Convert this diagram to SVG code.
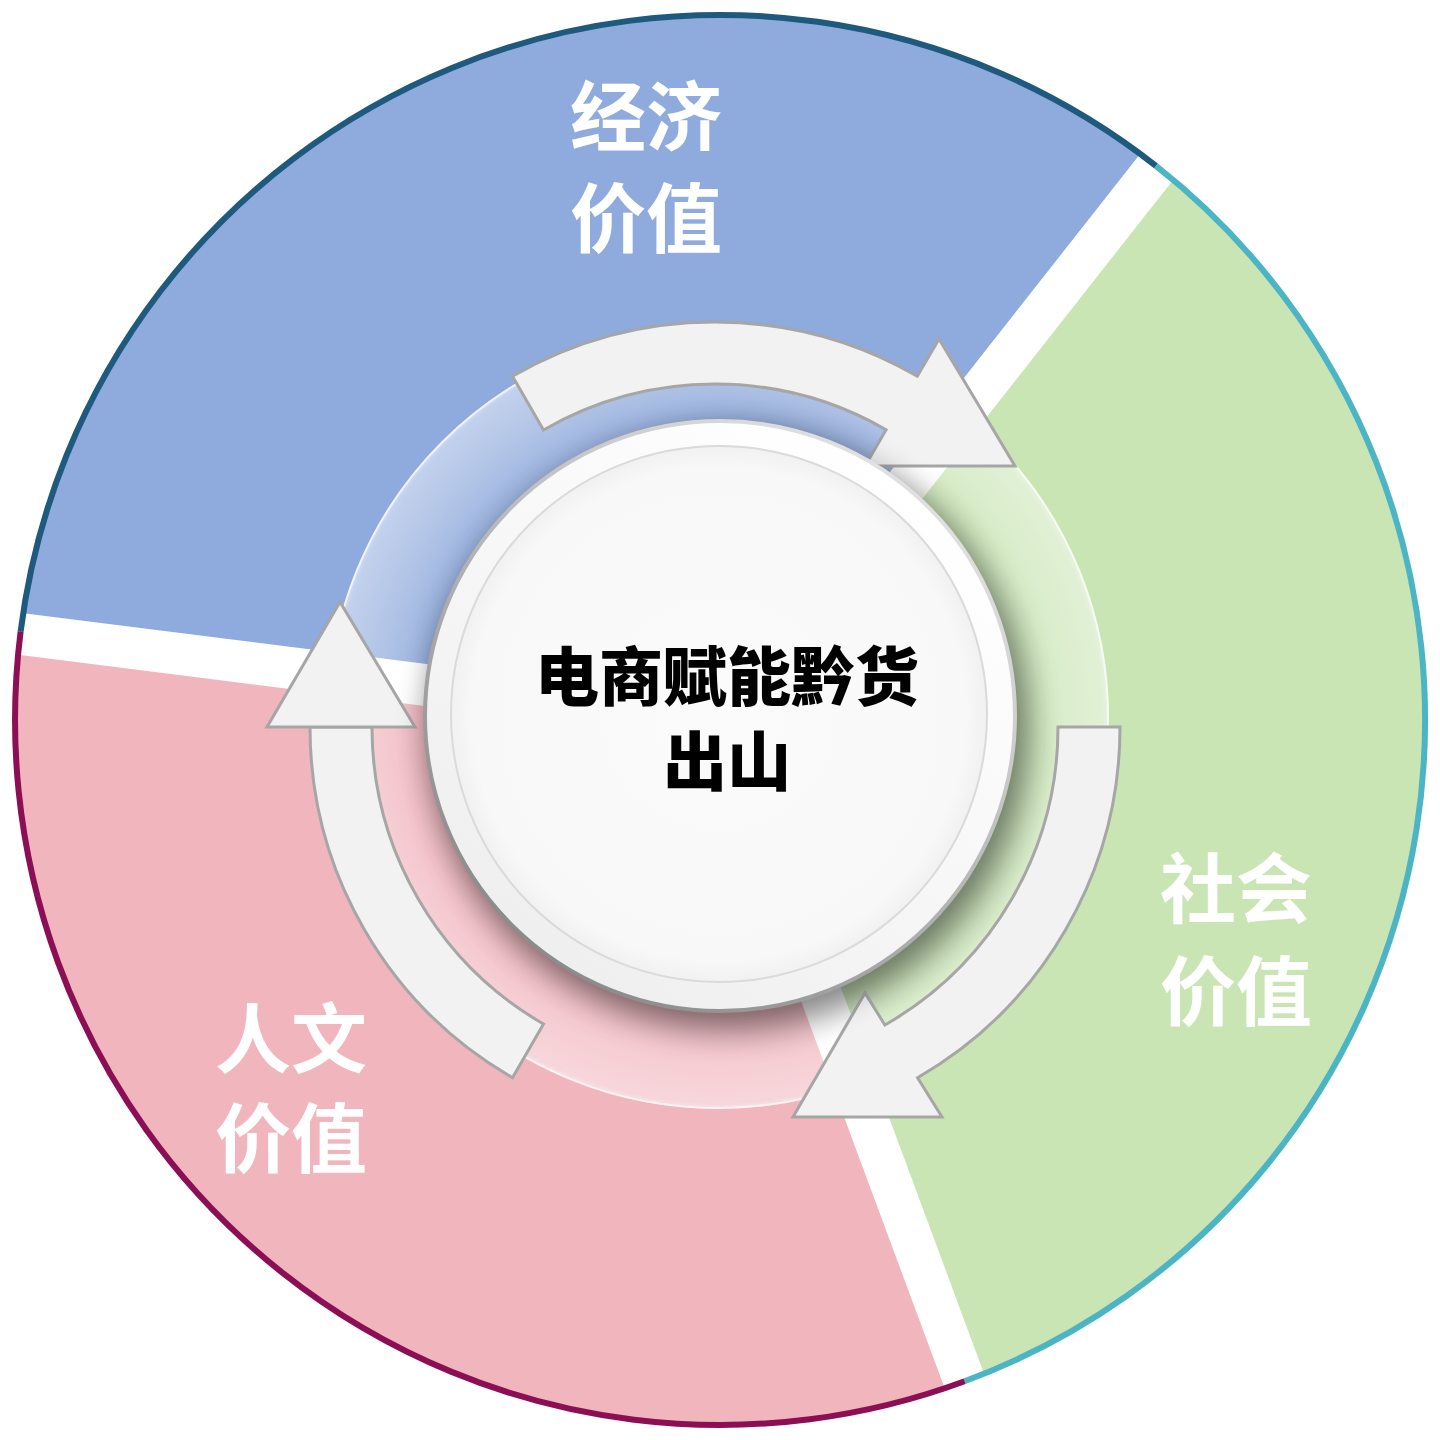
<svg xmlns="http://www.w3.org/2000/svg" width="1440" height="1440" viewBox="0 0 1440 1440">
<defs>
<style>
.lbl{font-family:"Noto Sans CJK SC","Noto Sans",sans-serif;font-weight:700;fill:#ffffff;text-anchor:middle;font-size:76px;}
.ctr{font-family:"Noto Sans CJK SC","Noto Sans",sans-serif;font-weight:900;fill:#000000;text-anchor:middle;font-size:64px;}
.arrow{fill:#f2f2f2;stroke:#a6a6a6;stroke-width:3;stroke-linejoin:miter;}
.gap{stroke:#ffffff;stroke-width:42;stroke-linecap:butt;}
.border{fill:none;stroke-width:6;}
</style>
<radialGradient id="ringGrad" cx="718" cy="718" r="391" gradientUnits="userSpaceOnUse">
<stop offset="0.74" stop-color="#ffffff" stop-opacity="0.08"/>
<stop offset="0.88" stop-color="#ffffff" stop-opacity="0.32"/>
<stop offset="0.985" stop-color="#ffffff" stop-opacity="0.45"/>
<stop offset="1" stop-color="#ffffff" stop-opacity="0.6"/>
</radialGradient>
<filter id="blur" x="-30%" y="-30%" width="160%" height="160%"><feGaussianBlur stdDeviation="16"/></filter>
<linearGradient id="rimFill" x1="0.8" y1="0.1" x2="0.2" y2="0.9">
<stop offset="0" stop-color="#ffffff"/>
<stop offset="1" stop-color="#efefef"/>
</linearGradient>
<linearGradient id="rimStroke" x1="0.8" y1="0.1" x2="0.2" y2="0.9">
<stop offset="0" stop-color="#e0e0e0"/>
<stop offset="1" stop-color="#8c8c8c"/>
</linearGradient>
<radialGradient id="faceFill" cx="0.5" cy="0.5" r="0.5">
<stop offset="0" stop-color="#fbfbfb"/>
<stop offset="0.92" stop-color="#f8f8f8"/>
<stop offset="1" stop-color="#f1f1f1"/>
</radialGradient>
</defs>

<g id="sector-economic">
<path d="M720 720 L18.6 631.4 A707 707 0 0 1 1157.2 164.4 Z" fill="#8faadc"/>
</g>
<g id="sector-social">
<path d="M720 720 L1157.2 164.4 A707 707 0 0 1 965.3 1383.1 Z" fill="#c9e5b4"/>
</g>
<g id="sector-culture">
<path d="M720 720 L965.3 1383.1 A707 707 0 0 1 18.6 631.4 Z" fill="#f1b5be"/>
</g>

<g id="gaps">
<line class="gap" x1="720" y1="722" x2="1155" y2="169"/>
<line class="gap" x1="720" y1="722" x2="964" y2="1380"/>
<line class="gap" x1="720" y1="722" x2="21" y2="634"/>
</g>

<g id="borders">
<path class="border" stroke="#1e5a7e" d="M20.6 631.6 A705 705 0 0 1 1156 165.9"/>
<path class="border" stroke="#4bb5c6" d="M1156 165.9 A705 705 0 0 1 964.6 1381.2"/>
<path class="border" stroke="#8c0f55" d="M964.6 1381.2 A705 705 0 0 1 20.6 631.6"/>
</g>

<g id="ring">
<circle cx="718" cy="718" r="391" fill="url(#ringGrad)"/>
<circle cx="730" cy="732" r="300" fill="#000000" opacity="0.26" filter="url(#blur)"/>
<circle cx="718" cy="718" r="390" fill="none" stroke="#ffffff" stroke-opacity="0.65" stroke-width="2"/>
</g>

<g id="connectors">
<path id="arrow-top" class="arrow" d="M512.5 376.3 A405 405 0 0 1 917.3 376.2 L939 339 L1015 466 L865 466 L886.1 429.7 A343 343 0 0 0 543.5 430 Z"/>
<path id="arrow-right" class="arrow" d="M1120 727 A405 405 0 0 1 917.6 1077.7 L942 1117 L793 1117 L865 993 L884.9 1025 A343 343 0 0 0 1058 727 Z"/>
<g id="arrow-left">
<path class="arrow" d="M512.5 1077.7 A405 405 0 0 1 310 727 L372 727 A343 343 0 0 0 543.5 1024 Z"/>
<path class="arrow" d="M340 602 L415 727 L267 727 Z"/>
</g>
</g>

<g id="center">
<circle cx="726" cy="726" r="298" fill="#000000" opacity="0.3" filter="url(#blur)"/>
<circle cx="720" cy="716" r="295" fill="url(#rimFill)" stroke="url(#rimStroke)" stroke-width="4"/>
<circle cx="719" cy="714" r="268" fill="url(#faceFill)" stroke="#dadada" stroke-width="2"/>
<text class="ctr" x="727" y="700">电商赋能黔货</text>
<text class="ctr" x="727" y="785">出山</text>
</g>

<g id="labels">
<text class="lbl" x="646" y="145">经济</text>
<text class="lbl" x="646" y="247">价值</text>
<text class="lbl" x="1236" y="917">社会</text>
<text class="lbl" x="1236" y="1020">价值</text>
<text class="lbl" x="291" y="1067">人文</text>
<text class="lbl" x="291" y="1167">价值</text>
</g>
</svg>
